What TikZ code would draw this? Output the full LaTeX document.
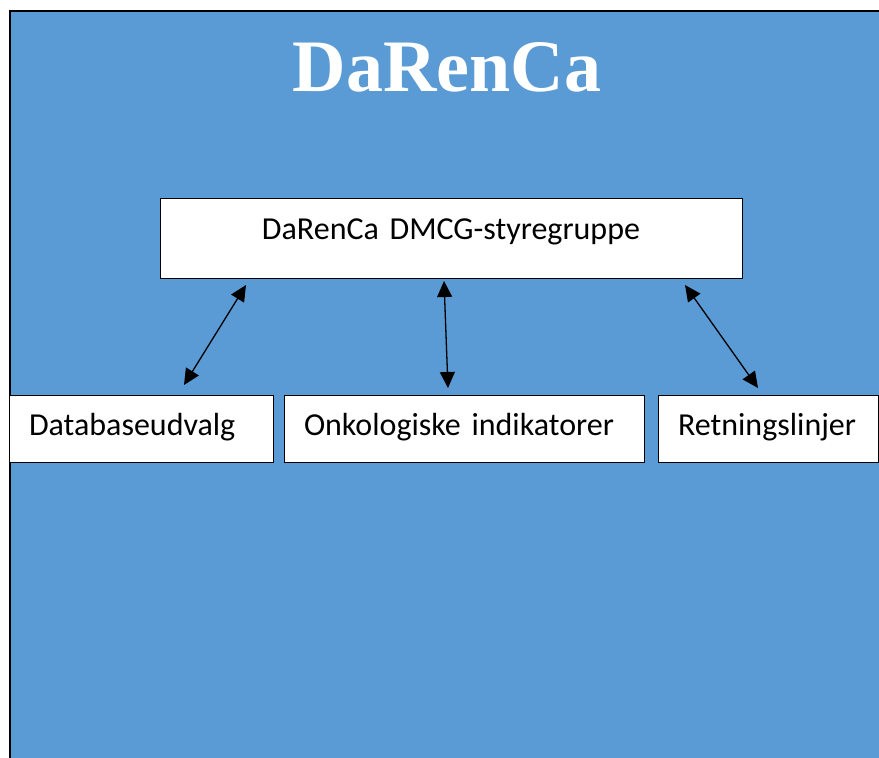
\documentclass[tikz,border=0pt]{standalone}
\usepackage{fontspec}
\setmainfont{Carlito}
\newfontfamily\titlefont{Liberation Serif}
\usetikzlibrary{arrows.meta}
\definecolor{panelblue}{RGB}{91,155,213}
\begin{document}
\begin{tikzpicture}[x=1pt,y=-1pt,
    >={Triangle[length=16pt,width=15pt]},
    box/.style={draw=black,line width=1pt,fill=white,inner sep=0pt,inner xsep=20pt,
      text height=40pt,text depth=27pt,font=\fontsize{32}{34}\selectfont,align=left}]
  \useasboundingbox (0,0) rectangle (879,758);
  % background panel
  \begin{scope}
    \clip (0,0) rectangle (879,758);
    \draw[line width=2pt,fill=panelblue] (10,11) rectangle (900,790);
  \end{scope}
  % title
  \node[text=white,font=\titlefont\bfseries\fontsize{74}{80}\selectfont] (title) at (447,67) {DaRenCa};
  % boxes
  \node[box,align=center,text width=542pt,text height=41pt,text depth=39pt] (styre) at (451,238) {DaRenCa DMCG-styregruppe};
  \node[box,text width=224pt] (db) at (141,428.5) {Databaseudvalg};
  \node[box,text width=320pt] (onk) at (464,428.5) {Onkologiske indikatorer};
  \node[box,text width=180pt] (ret) at (768,428.5) {Retningslinjer};
  % arrow ends
  \coordinate (a1) at (246,285);
  \coordinate (b1) at (184,385);
  \coordinate (a2) at (444,281);
  \coordinate (b2) at (448,388);
  \coordinate (a3) at (685,285);
  \coordinate (b3) at (758,388);
  % arrows
  \draw[<->,line width=1.3pt] (a1)--(b1);
  \draw[<->,line width=1.3pt] (a2)--(b2);
  \draw[<->,line width=1.3pt] (a3)--(b3);
\end{tikzpicture}
\end{document}
